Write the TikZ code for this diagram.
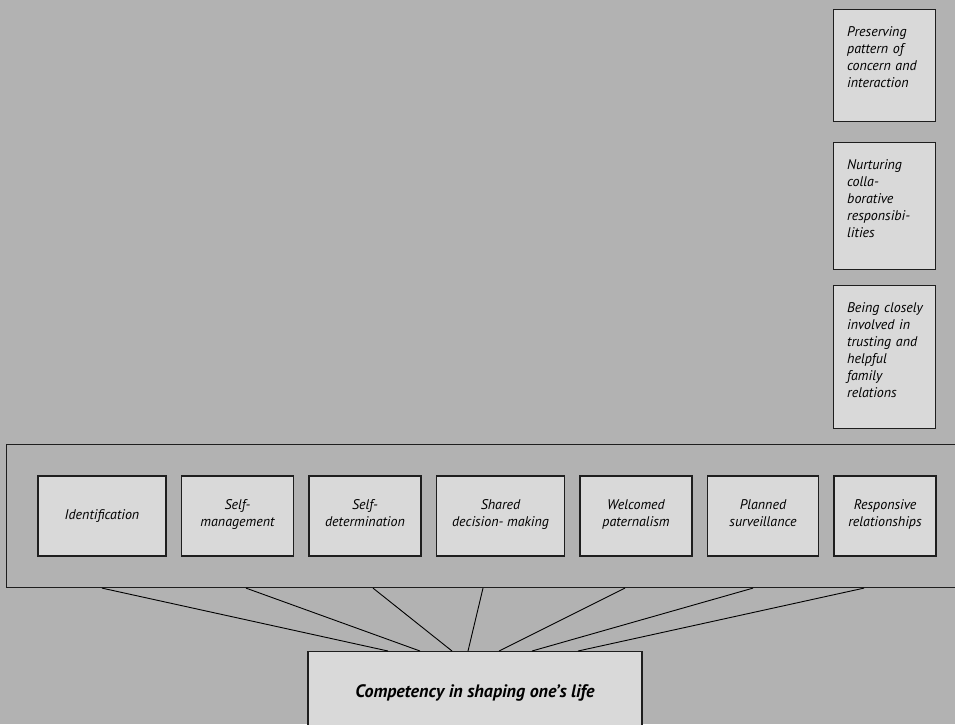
\documentclass[tikz,border=0pt]{standalone}
\usepackage{fontspec}
\setmainfont{PT Sans}
\usetikzlibrary{positioning}
\definecolor{backgray}{HTML}{B2B2B2}
\definecolor{boxgray}{HTML}{D9D9D9}
\definecolor{edgegray}{HTML}{1E1E1E}

\begin{document}
\begin{tikzpicture}[x=1pt,y=-1pt,font=\fontsize{14}{17}\selectfont\itshape,node distance=15.5pt,
 catbox/.style={draw=edgegray,line width=1.1pt,fill=boxgray,minimum height=80pt,align=center,inner sep=2pt,outer sep=0pt,
  execute at begin node=\strut,execute at end node=\strut},
 sidebox/.style={draw=edgegray,line width=1.1pt,fill=boxgray,minimum width=102pt,anchor=north west},
 sidetext/.style={anchor=north west,align=left,inner sep=0pt,text width=88pt},
 spoke/.style={line width=.9pt}]
\clip (0,0) rectangle (955,724);
\fill[backgray] (0,0) rectangle (955,724);
% family relations column
\node[sidebox,minimum height=112pt] (pattern) at (833,9) {};
\node[sidetext] (patternT) at ([shift={(14,17)}]pattern.north west) {Preserving\\pattern of\\concern and\\interaction};
\node[sidebox,minimum height=127pt] (nurture) at (833,142) {};
\node[sidetext] (nurtureT) at ([shift={(14,17)}]nurture.north west) {Nurturing\\colla-\\borative\\responsibi-\\lities};
\node[sidebox,minimum height=143pt] (involved) at (833,285) {};
\node[sidetext] (involvedT) at ([shift={(14,17)}]involved.north west) {Being closely\\involved in\\trusting and\\helpful\\family\\relations};
% frame and the seven categories
\node[draw=edgegray,line width=1.1pt,minimum width=1000pt,minimum height=143pt,anchor=north west] (cont) at (6,444) {};
\node[catbox,minimum width=128pt] (ident) at (102,516) {Identification};
\node[catbox,minimum width=112pt,right=of ident] (selfman) {Self-\\management};
\node[catbox,minimum width=112pt,right=of selfman] (selfdet) {Self-\\determination};
\node[catbox,minimum width=128pt,right=of selfdet] (shared) {Shared\\decision- making};
\node[catbox,minimum width=112pt,right=of shared] (welcome) {Welcomed\\paternalism};
\node[catbox,minimum width=111pt,right=of welcome] (planned) {Planned\\surveillance};
\node[catbox,minimum width=102pt,right=of planned] (respons) {Responsive\\relationships};
% core category
\node[draw=edgegray,line width=1.1pt,fill=boxgray,minimum width=334pt,minimum height=82pt,anchor=north,
 font=\fontsize{18}{21}\selectfont\bfseries\itshape] (result) at (475,651) {Competency in shaping one’s life};
\foreach \u/\d [count=\i] in {102/388,246/420,373/452,483/468,625/499,753/532,864/578}{
 \coordinate (up\i) at (\u,0 |- cont.south);
 \coordinate (dn\i) at (\d,0 |- result.north);
 \draw[spoke] (up\i) -- (dn\i);}
\end{tikzpicture}
\end{document}
